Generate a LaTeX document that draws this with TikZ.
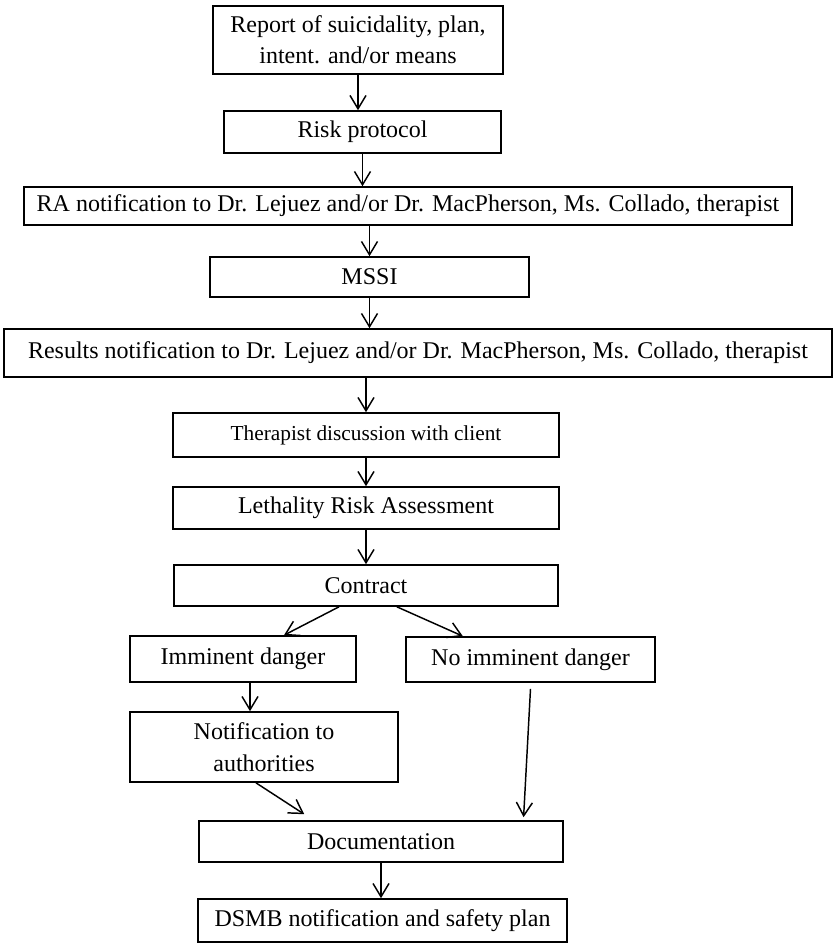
\documentclass[tikz,border=0pt]{standalone}
\usepackage{fontspec}
\setmainfont{Liberation Serif}
\usepackage{tikz}
\usetikzlibrary{arrows.meta,calc}

\begin{document}
\begin{tikzpicture}[
  x=0.75pt, y=-0.75pt,
  stepbox/.style 2 args={draw, line width=1.2pt, inner sep=0pt, align=center,
    font=\fontsize{18}{23.5}\selectfont,
    minimum width=#1*0.75pt, minimum height=#2*0.75pt},
  flow/.style={line width=1.1pt, -{Straight Barb[length=10pt,width=12pt,line width=1.1pt]}},
]
\useasboundingbox (0,0) rectangle (833,944);
% boxes, by centre and size in pixels
\node[stepbox={290}{68}] (report) at (358,40) {Report of suicidality, plan,\\intent. and/or means};
\node[stepbox={277}{42}] (risk) at (362.5,132) {Risk protocol};
\node[stepbox={768}{38}] (ranotif) at (408,206) {RA notification to Dr. Lejuez and/or Dr. MacPherson, Ms. Collado, therapist};
\node[stepbox={319}{40}] (mssi) at (369.5,277) {MSSI};
\node[stepbox={828}{48}] (results) at (418,353) {Results notification to Dr. Lejuez and/or Dr. MacPherson, Ms. Collado, therapist};
\node[stepbox={386}{44}, font=\fontsize{16}{20}\selectfont] (therapist) at (366,435) {Therapist discussion with client};
\node[stepbox={386}{42}] (lethality) at (366,508) {Lethality Risk Assessment};
\node[stepbox={384}{41}] (contract) at (366,585.5) {Contract};
\node[stepbox={226}{46}] (imminent) at (243,659) {Imminent danger};
\node[stepbox={249}{45}] (noimminent) at (530.5,659.5) {No imminent danger};
\node[stepbox={268}{70}] (authorities) at (264,747) {Notification to\\authorities};
\node[stepbox={364}{41}] (documentation) at (381,841.5) {Documentation};
\node[stepbox={369}{43}] (dsmb) at (382.5,920.5) {DSMB notification and safety plan};
\coordinate (dangerline) at (250,0);

% straight down
\foreach \a/\b in {report/risk,risk/ranotif,mssi/results,therapist/lethality,lethality/contract,documentation/dsmb}
  \draw[flow] (\a.south) -- (\a.south |- \b.north);
\draw[flow] (mssi.north |- ranotif.south) -- (mssi.north);
\draw[flow] (therapist.north |- results.south) -- (therapist.north);
\draw[flow] (imminent.south -| dangerline) -- (authorities.north -| dangerline);

% branches
\draw[flow] ($(contract.south west)!0.43!(contract.south east)$) -- ($(imminent.north west)!0.68!(imminent.north east)$);
\draw[flow] ($(contract.south west)!0.58!(contract.south east)$) -- ($(noimminent.north west)!0.23!(noimminent.north east)$);
\draw[flow] ($(authorities.south west)!0.47!(authorities.south east)$) -- ($(documentation.north west)!0.29!(documentation.north east)+(0,-6)$);
\draw[flow] ($(noimminent.south)+(0,6)$) -- ($(documentation.north west)!0.89!(documentation.north east)+(0,-3)$);
\end{tikzpicture}
\end{document}
